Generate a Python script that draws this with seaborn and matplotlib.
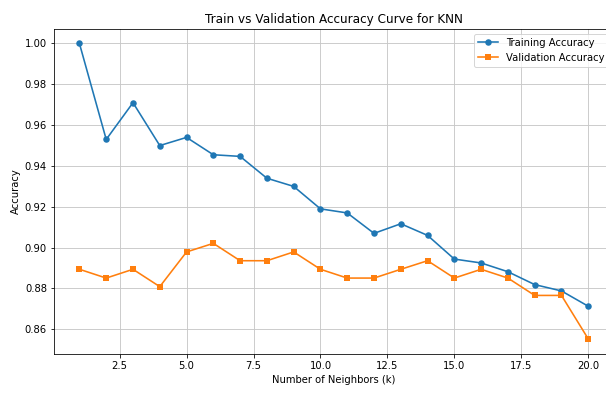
import numpy as np
import pandas as pd
import matplotlib
matplotlib.use("Agg")
import matplotlib.pyplot as plt
import seaborn as sns

k_values = list(range(1, 21))
train_acc = [1.000, 0.953, 0.971, 0.950, 0.954, 0.9455, 0.9447, 0.934, 0.930, 0.919,
             0.917, 0.907, 0.9117, 0.906, 0.8944, 0.8925, 0.8882, 0.8819, 0.8788, 0.8713]
val_acc = [0.8894, 0.8851, 0.8894, 0.8809, 0.8979, 0.9021, 0.8936, 0.8936, 0.8979, 0.8894,
           0.8851, 0.8851, 0.8894, 0.8936, 0.8851, 0.8894, 0.8851, 0.8766, 0.8766, 0.8553]

title = "Train vs Validation Accuracy Curve for KNN"
xlabel = "Number of Neighbors (k)"
ylabel = "Accuracy"

plt.rcParams['font.family'] = ['DejaVu Sans']
DPI = 72
fig = plt.figure(figsize=(606 / DPI, 395 / DPI), dpi=DPI)
ax = fig.add_axes([0.0891, 0.1046, 0.9236, 0.8227])

df = pd.DataFrame({"k": k_values, "train": train_acc, "val": val_acc})
sns.lineplot(data=df, x="k", y="train", marker="o", color="#1f77b4",
             label="Training Accuracy", ax=ax, markersize=6.5, linewidth=1.6,
             markeredgecolor="#1f77b4", markeredgewidth=0)
sns.lineplot(data=df, x="k", y="val", marker="s", color="#ff7f0e",
             label="Validation Accuracy", ax=ax, markersize=6.5, linewidth=1.6,
             markeredgecolor="#ff7f0e", markeredgewidth=0)

ax.set_title(title, fontsize=12)
ax.set_xlabel(xlabel, fontsize=10)
ax.set_ylabel(ylabel, fontsize=10)
ax.tick_params(labelsize=10)
ax.set_xticks([2.5, 5.0, 7.5, 10.0, 12.5, 15.0, 17.5, 20.0])
ax.set_yticks([0.86, 0.88, 0.90, 0.92, 0.94, 0.96, 0.98, 1.00])
ax.yaxis.set_major_formatter(matplotlib.ticker.FormatStrFormatter('%.2f'))
ax.xaxis.set_major_formatter(matplotlib.ticker.FormatStrFormatter('%.1f'))
ax.grid(True, color="#c8c8c8", linewidth=0.9)
ax.legend(loc="upper right", fontsize=10)

fig.savefig("out.png", dpi=DPI)
